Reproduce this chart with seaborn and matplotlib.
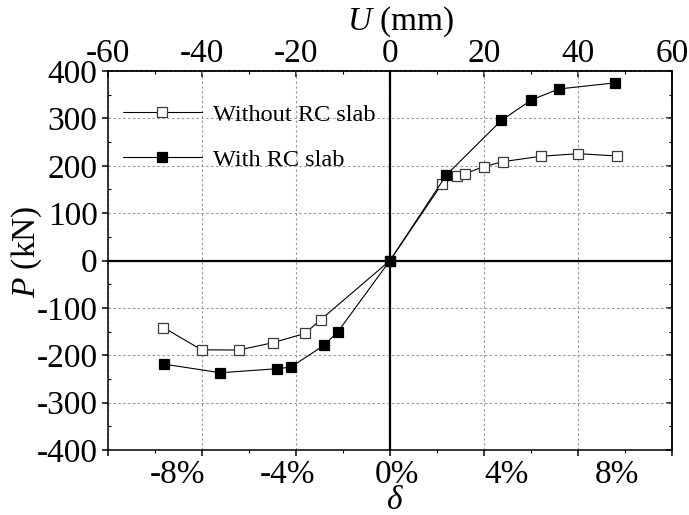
import matplotlib
matplotlib.use("Agg")
import matplotlib.pyplot as plt
import seaborn as sns
import numpy as np
import pandas as pd
from matplotlib.ticker import MultipleLocator, FixedLocator, FuncFormatter

# ---- data ----
U_without = [-48.2, -40.1, -32.2, -25.0, -18.1, -14.7, 0.0, 11.0, 14.2, 15.9, 19.9, 24.0, 32.1, 40.0, 48.4]
P_without = [-141.5, -188.5, -189.0, -173.7, -154.0, -124.6, 0.0, 161.0, 178.0, 183.0, 198.0, 208.6, 220.0, 225.5, 220.6]
U_with = [-48.1, -36.1, -24.1, -21.1, -14.1, -11.1, 0.0, 12.0, 23.7, 30.1, 35.9, 47.9]
P_with = [-218.7, -236.9, -228.5, -225.0, -179.4, -150.6, 0.0, 180.6, 295.8, 339.0, 362.0, 375.0]
series_names = ["Without RC slab", "With RC slab"]
u_ticks = [-60, -40, -20, 0, 20, 40, 60]
p_ticks = [-400, -300, -200, -100, 0, 100, 200, 300, 400]
delta_ticks = [-8, -4, 0, 4, 8]

sns.set_style("ticks")
plt.rcParams["font.family"] = ["Liberation Serif", "DejaVu Serif"]
plt.rcParams["mathtext.fontset"] = "custom"
plt.rcParams["mathtext.rm"] = "Liberation Serif"
plt.rcParams["mathtext.it"] = "Liberation Serif:italic"
plt.rcParams["axes.unicode_minus"] = False
for key in ["text.color", "axes.labelcolor", "xtick.color", "ytick.color", "axes.edgecolor"]:
    plt.rcParams[key] = "black"

fig = plt.figure(figsize=(6.89, 5.15), dpi=100)
ax = fig.add_axes([108 / 689, 1 - 450 / 515, 564 / 689, 379 / 515])

df_wo = pd.DataFrame({"U": U_without, "P": P_without})
df_w = pd.DataFrame({"U": U_with, "P": P_with})

sns.lineplot(data=df_wo, x="U", y="P", ax=ax, color="black", lw=0.8, marker="s",
             markersize=7.5, markerfacecolor="white", markeredgecolor="#3a3a3a",
             markeredgewidth=0.9, label=series_names[0], estimator=None, sort=False, zorder=4)
sns.lineplot(data=df_w, x="U", y="P", ax=ax, color="black", lw=0.8, marker="s",
             markersize=7.5, markerfacecolor="black", markeredgecolor="black",
             markeredgewidth=0.9, label=series_names[1], estimator=None, sort=False, zorder=5)

ax.set_xlim(-60, 60)
ax.set_ylim(-400, 400)
ax.axhline(0, color="black", lw=1.6, zorder=3)
ax.axvline(0, color="black", lw=1.6, zorder=3)

ax.xaxis.set_major_locator(FixedLocator(u_ticks))
ax.xaxis.set_minor_locator(MultipleLocator(10))
ax.yaxis.set_major_locator(FixedLocator(p_ticks))
ax.yaxis.set_minor_locator(MultipleLocator(50))
ax.grid(which="major", color="#9a9a9a", linestyle=(0, (2.2, 2.2)), lw=0.8)
ax.set_axisbelow(True)

for s in ax.spines.values():
    s.set_linewidth(1.1)
    s.set_color("black")

ax.tick_params(axis="x", which="major", direction="out", length=4, width=1.1,
               labelbottom=False, bottom=True, top=False)
ax.tick_params(axis="x", which="minor", direction="out", length=2, width=0.8,
               bottom=True, top=False)
ax.tick_params(axis="y", which="major", direction="out", length=4, width=1.1,
               labelsize=24, pad=3.5, left=True, right=False)
ax.tick_params(axis="y", which="minor", direction="in", length=2, width=0.8,
               left=True, right=False)
ax.set_xlabel("")
ax.set_ylabel("$P$ (kN)", fontsize=24, va="center")
ax.yaxis.set_label_coords(-0.144, 0.522)

# top U axis
top = ax.secondary_xaxis("top")
top.xaxis.set_major_locator(FixedLocator(u_ticks))
top.xaxis.set_minor_locator(MultipleLocator(10))
top.tick_params(which="major", direction="in", length=4, width=1.1, labelsize=24, pad=1.5)
top.tick_params(which="minor", direction="in", length=2.5, width=0.8)
top.spines["top"].set_linewidth(1.1)
ax.text(0.5195, 1.129, "$U$ (mm)", transform=ax.transAxes, fontsize=24,
        ha="center", va="center")

# right axis ticks
right = ax.secondary_yaxis("right")
right.yaxis.set_major_locator(FixedLocator(p_ticks))
right.yaxis.set_minor_locator(MultipleLocator(50))
right.tick_params(which="major", direction="in", length=4, width=1.1, labelright=False)
right.tick_params(which="minor", direction="in", length=2.5, width=0.8)
right.spines["right"].set_linewidth(1.1)

# bottom drift-ratio axis
u0, k = 1.5, 5.85
bot = ax.secondary_xaxis("bottom", functions=(lambda u: (u - u0) / k, lambda d: d * k + u0))
bot.xaxis.set_major_locator(FixedLocator(delta_ticks))
bot.xaxis.set_minor_locator(FixedLocator([]))
bot.xaxis.set_major_formatter(FuncFormatter(lambda v, p: f"{v:.0f}%"))
bot.tick_params(which="major", length=0, labelsize=24, pad=7)
bot.spines["bottom"].set_visible(False)
ax.text(0.509, -0.133, "$\\delta$", transform=ax.transAxes, fontsize=24,
        ha="center", va="center")

leg = ax.legend(loc="upper left", bbox_to_anchor=(0.026, 0.914), frameon=False,
                fontsize=17.5, handlelength=3.25, handletextpad=0.45,
                labelspacing=0.95, borderpad=0, borderaxespad=0)

fig.savefig("out.png", dpi=100)
